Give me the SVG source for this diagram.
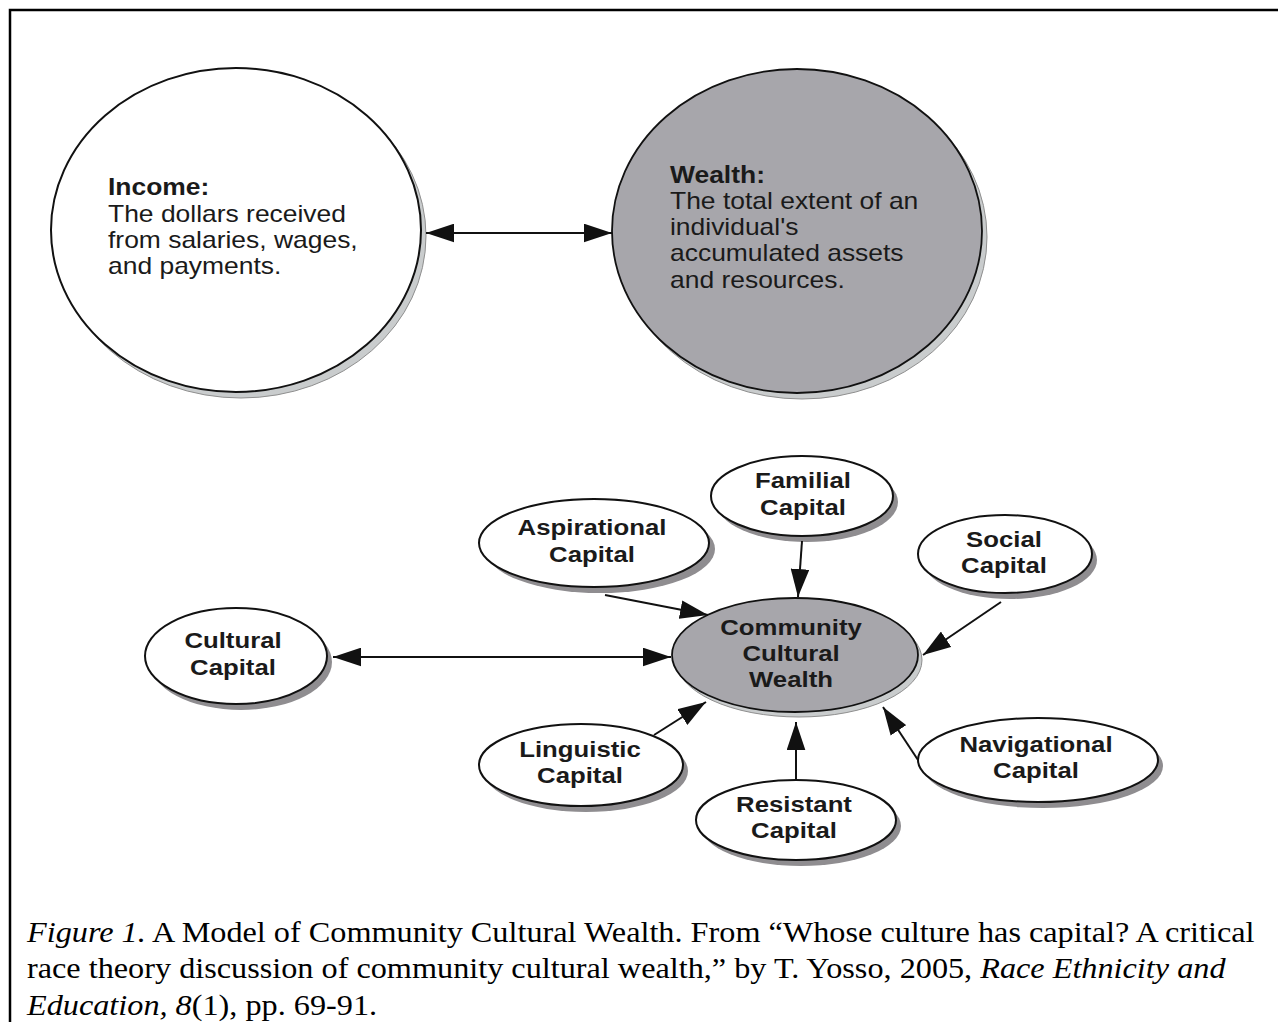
<svg xmlns="http://www.w3.org/2000/svg" width="1278" height="1022" viewBox="0 0 1278 1022">
<defs>
<style>
.frame{stroke:#000;stroke-width:2.5;fill:none}
.big{stroke:#111;stroke-width:1.8}
.lshadow{fill:#c9cccd;stroke:#8f8f8f;stroke-width:1}
.dshadow{fill:#8f8d90;stroke:none}
.node{fill:#fff;stroke:#111;stroke-width:2}
.grey{fill:#a7a6ab}
.conn{stroke:#111;stroke-width:2;fill:none}
.dtext{font-family:"Liberation Sans",Arial,Helvetica,sans-serif;font-size:23px;fill:#1a1a1a}
.btext{font-family:"Liberation Sans",Arial,Helvetica,sans-serif;font-size:23px;font-weight:bold;fill:#1a1a1a;text-anchor:middle}
.cap{font-family:"Liberation Serif","Times New Roman",serif;font-size:29px;fill:#000}
</style>
<marker id="ah" markerUnits="userSpaceOnUse" markerWidth="28" markerHeight="19" viewBox="0 0 27 18" refX="27" refY="9" orient="auto-start-reverse">
<path d="M0,0 L27,9 L0,18 z" fill="#111"/>
</marker>
</defs>
<rect width="1278" height="1022" fill="#fff"/>
<path class="frame" d="M10,1022 V10 H1278"/>

<g id="income">
<ellipse class="lshadow" cx="241" cy="236" rx="185" ry="162"/>
<ellipse class="node big" cx="236" cy="230" rx="185" ry="162"/>
<text class="dtext" transform="translate(108,0) scale(1.15,1)" x="0" y="195"><tspan font-weight="bold">Income:</tspan><tspan x="0" y="222">The dollars received</tspan><tspan x="0" y="248">from salaries, wages,</tspan><tspan x="0" y="274">and payments.</tspan></text>
</g>

<g id="wealth">
<ellipse class="lshadow" cx="802" cy="237" rx="185" ry="162"/>
<ellipse class="grey big" cx="797" cy="231" rx="185" ry="162"/>
<text class="dtext" transform="translate(670,0) scale(1.15,1)" x="0" y="183"><tspan font-weight="bold">Wealth:</tspan><tspan x="0" y="209">The total extent of an</tspan><tspan x="0" y="235">individual's</tspan><tspan x="0" y="261">accumulated assets</tspan><tspan x="0" y="288">and resources.</tspan></text>
</g>

<g id="ccw">
<ellipse class="lshadow" cx="799" cy="660" rx="123" ry="57"/>
<ellipse class="grey big" cx="795" cy="655" rx="123" ry="57"/>
<text class="btext" transform="translate(791,0) scale(1.12,1)" x="0" y="635">Community<tspan x="0" y="661">Cultural</tspan><tspan x="0" y="687">Wealth</tspan></text>
</g>

<g id="familial">
<ellipse class="dshadow" cx="807" cy="502" rx="91" ry="40"/>
<ellipse class="node" cx="802" cy="496" rx="91" ry="40"/>
<text class="btext" transform="translate(803,0) scale(1.12,1)" x="0" y="488">Familial<tspan x="0" y="515">Capital</tspan></text>
</g>

<g id="aspirational">
<ellipse class="dshadow" cx="600" cy="549" rx="115" ry="44"/>
<ellipse class="node" cx="594" cy="543" rx="115" ry="44"/>
<text class="btext" transform="translate(592,0) scale(1.12,1)" x="0" y="535">Aspirational<tspan x="0" y="562">Capital</tspan></text>
</g>

<g id="social">
<ellipse class="dshadow" cx="1010" cy="560" rx="87" ry="39"/>
<ellipse class="node" cx="1005" cy="554" rx="87" ry="39"/>
<text class="btext" transform="translate(1004,0) scale(1.12,1)" x="0" y="547">Social<tspan x="0" y="573">Capital</tspan></text>
</g>

<g id="cultural">
<ellipse class="dshadow" cx="241" cy="662" rx="91" ry="48"/>
<ellipse class="node" cx="236" cy="656" rx="91" ry="48"/>
<text class="btext" transform="translate(233,0) scale(1.12,1)" x="0" y="648">Cultural<tspan x="0" y="675">Capital</tspan></text>
</g>

<g id="linguistic">
<ellipse class="dshadow" cx="586" cy="771" rx="102" ry="41"/>
<ellipse class="node" cx="581" cy="765" rx="102" ry="41"/>
<text class="btext" transform="translate(580,0) scale(1.12,1)" x="0" y="757">Linguistic<tspan x="0" y="783">Capital</tspan></text>
</g>

<g id="resistant">
<ellipse class="dshadow" cx="801" cy="826" rx="100" ry="40"/>
<ellipse class="node" cx="796" cy="820" rx="100" ry="40"/>
<text class="btext" transform="translate(794,0) scale(1.12,1)" x="0" y="812">Resistant<tspan x="0" y="838">Capital</tspan></text>
</g>

<g id="navigational">
<ellipse class="dshadow" cx="1043" cy="766" rx="120" ry="42"/>
<ellipse class="node" cx="1038" cy="760" rx="120" ry="42"/>
<text class="btext" transform="translate(1036,0) scale(1.12,1)" x="0" y="752">Navigational<tspan x="0" y="778">Capital</tspan></text>
</g>

<g id="connectors">
<line class="conn" x1="426" y1="233" x2="612" y2="233" marker-start="url(#ah)" marker-end="url(#ah)"/>
<line class="conn" x1="333" y1="657" x2="671" y2="657" marker-start="url(#ah)" marker-end="url(#ah)"/>
<line class="conn" x1="605" y1="595" x2="708" y2="615" marker-end="url(#ah)"/>
<line class="conn" x1="802" y1="541" x2="798" y2="597" marker-end="url(#ah)"/>
<line class="conn" x1="1001" y1="602" x2="923" y2="655" marker-end="url(#ah)"/>
<line class="conn" x1="654" y1="735" x2="706" y2="702" marker-end="url(#ah)"/>
<line class="conn" x1="796" y1="780" x2="796" y2="722" marker-end="url(#ah)"/>
<line class="conn" x1="918" y1="760" x2="883" y2="707" marker-end="url(#ah)"/>
</g>

<g id="caption" transform="translate(27,0) scale(1.112,1)">
<text class="cap" x="0" y="942"><tspan font-style="italic">Figure 1.</tspan> A Model of Community Cultural Wealth. From “Whose culture has capital? A critical</text>
<text class="cap" x="0" y="978">race theory discussion of community cultural wealth,” by T. Yosso, 2005, <tspan font-style="italic">Race Ethnicity and</tspan></text>
<text class="cap" x="0" y="1015"><tspan font-style="italic">Education, 8</tspan>(1), pp. 69-91.</text>
</g>
</svg>
